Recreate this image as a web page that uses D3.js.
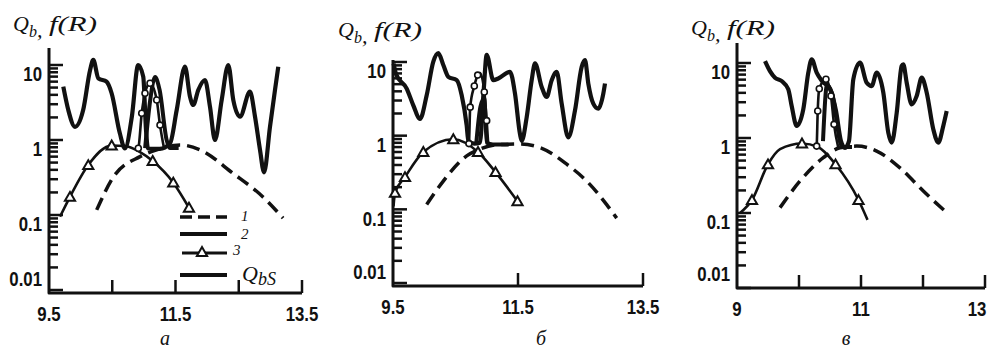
<!DOCTYPE html>
<html>
<head>
<meta charset="utf-8">
<script src="https://cdn.jsdelivr.net/npm/d3@7"></script>
</head>
<body style="margin:0">
<svg id="chart" width="991" height="350"></svg>
<script>
// ---- data: [R, value] pairs ----
const yMajor = [0.01, 0.1, 1, 10];
const yMinorFactors = [2, 3, 4, 5, 6, 7, 8, 9];

// panel а
const aTicks = [10.5, 11.5, 12.5, 13.5];
const aLabels = [9.5, 11.5, 13.5];
const aSolid = [[9.726,5.14],[9.805,2.51],[9.911,1.5],[10.04,2.51],[10.15,8.58],[10.2,11.7],[10.28,6.65],[10.41,5.99],[10.49,4.2],[10.62,1.23],[10.7,0.77],[10.81,2.05],[10.91,10],[10.99,7.0],[11.034,1.36],[11.065,0.77],[11.25,0.76],[11.413,0.9],[11.519,2.51],[11.65,9.5],[11.729,3.78],[11.781,2.93],[11.86,4.64],[11.966,6.31],[12.045,2.78],[12.124,1.0],[12.23,3.41],[12.335,10],[12.414,3.41],[12.52,2.05],[12.678,4.41],[12.757,2.05],[12.836,0.74],[12.9,0.37],[12.994,1.5],[13.073,4.64],[13.125,9.5]];
const aQbs = [[11.02,0.78],[11.1,3.4],[11.176,6.9],[11.25,4.6],[11.36,1.0],[11.41,0.78],[11.55,0.78]];
const aCirc = [[10.891,0.74],[10.912,0.775],[10.966,2.27],[11.018,4.2],[11.097,5.7],[11.203,3.41],[11.255,1.58],[11.318,0.78]];
const aCircMarks = [[10.912,0.775],[10.966,2.27],[11.018,4.2],[11.097,5.7],[11.203,3.41],[11.255,1.58]];
const aTri = [[9.674,0.095],[9.832,0.175],[10.121,0.464],[10.491,0.845],[10.7,0.83],[10.94,0.69],[11.14,0.525],[11.465,0.27],[11.713,0.125]];
const aTriMarks = [[9.832,0.175],[10.121,0.464],[10.491,0.845],[11.14,0.525],[11.465,0.27],[11.713,0.125]];
const aDash = [[10.254,0.117],[10.517,0.32],[10.939,0.6],[11.203,0.74],[11.571,0.86],[11.887,0.74],[12.409,0.36],[12.883,0.174],[13.2,0.091]];

// panel б
const bTicks = [11.5, 13.5];
const bLabels = [9.5, 11.5, 13.5];
const bSolid = [[9.51,9.5],[9.55,6.8],[9.719,4.36],[9.825,2.58],[9.932,1.69],[10.039,3.53],[10.145,10.1],[10.225,13.2],[10.305,9.1],[10.385,6.29],[10.519,5.67],[10.599,3.53],[10.679,1.37],[10.705,0.85],[10.8,0.78],[10.89,0.8],[10.95,4.0],[10.999,12.5],[11.105,5.67],[11.185,5.98],[11.372,7.36],[11.452,3.72],[11.532,1.05],[11.559,0.85],[11.639,1.78],[11.719,5.67],[11.772,9.6],[11.879,4.59],[11.959,3.35],[12.039,5.67],[12.119,7.36],[12.199,2.72],[12.305,0.95],[12.412,2.2],[12.519,8.6],[12.572,10.6],[12.625,5.1],[12.705,2.72],[12.785,2.32],[12.865,3.72],[12.892,5.1]];
const bQbs = [[10.83,0.75],[10.9,2.5],[10.96,3.2],[11.0,0.8],[11.1,0.76],[11.35,0.76]];
const bCirc = [[10.705,0.74],[10.715,0.78],[10.735,2.44],[10.801,4.73],[10.855,6.64],[10.892,7.07],[10.961,3.92],[10.999,1.6],[11.025,0.73]];
const bCircMarks = [[10.715,0.78],[10.735,2.44],[10.801,4.73],[10.855,6.64],[10.961,3.92],[10.999,1.6]];
const bTri = [[9.508,0.11],[9.532,0.167],[9.692,0.274],[9.985,0.6],[10.465,0.895],[10.86,0.6],[11.14,0.32],[11.492,0.129]];
const bTriMarks = [[9.532,0.167],[9.692,0.274],[9.985,0.6],[10.465,0.895],[10.86,0.6],[11.14,0.32],[11.492,0.129]];
const bDash = [[10.039,0.116],[10.305,0.242],[10.679,0.532],[10.892,0.658],[11.159,0.753],[11.532,0.77],[11.852,0.69],[12.279,0.41],[12.599,0.242],[12.919,0.116],[13.079,0.076]];

// panel в
const cTicks = [10, 11, 12, 13];
const cLabels = [9, 11, 13];
const cSolid = [[9.452,10.6],[9.532,7.8],[9.613,6.37],[9.721,5.75],[9.827,4.46],[9.882,2.67],[9.963,1.45],[10.069,2.41],[10.15,7.43],[10.205,11.2],[10.285,7.43],[10.371,5.75],[10.5,4.5],[10.597,2.29],[10.677,0.91],[10.742,0.74],[10.806,0.91],[10.876,6.06],[10.984,10.1],[11.092,5.46],[11.173,4.93],[11.253,7.43],[11.36,4.02],[11.44,1.18],[11.495,0.87],[11.576,2.17],[11.656,9.12],[11.682,9.6],[11.737,5.46],[11.818,2.81],[11.898,3.63],[11.979,6.37],[12.06,4.02],[12.166,1.31],[12.247,0.87],[12.327,1.45],[12.382,2.29]];
const cQbs = [[10.387,0.91],[10.452,5.09],[10.532,3.98],[10.694,0.76],[10.855,0.76]];
const cCirc = [[10.28,0.74],[10.285,0.78],[10.302,2.29],[10.327,4.54],[10.435,6.06],[10.516,3.63],[10.565,1.52],[10.634,0.74]];
const cCircMarks = [[10.285,0.78],[10.302,2.29],[10.327,4.54],[10.435,6.06],[10.516,3.63],[10.565,1.52]];
const cTri = [[9.048,0.1],[9.242,0.149],[9.5,0.446],[9.694,0.71],[10.048,0.845],[10.306,0.76],[10.589,0.446],[10.96,0.149],[11.105,0.081]];
const cTriMarks = [[9.242,0.149],[9.5,0.446],[10.048,0.845],[10.589,0.446],[10.96,0.149]];
const cDash = [[9.694,0.118],[10.016,0.267],[10.392,0.546],[10.661,0.74],[10.931,0.78],[11.253,0.67],[11.629,0.4],[12.005,0.196],[12.355,0.106]];

const ink = '#111';
const W = 991;
const numFont = "bold 21px 'Liberation Sans', Arial, sans-serif";
const serif = "'Liberation Serif', 'DejaVu Serif', serif";
const svg = d3.select('#chart');

const panels = [
  { xDomain: [9.5, 13.5], ticks: aTicks, labels: aLabels, caption: 'а',
    solid: aSolid, qbs: aQbs, circ: aCirc, circMarks: aCircMarks, tri: aTri, triMarks: aTriMarks, dash: aDash,
    box: { left: 49, right: 302, top: 48, bottom: 293, y10: 65, y001: 290, titleX: 13, titleY: 31, capX: 165, capY: 345 }, legend: true },
  { xDomain: [9.5, 13.5], ticks: bTicks, labels: bLabels, caption: 'б',
    solid: bSolid, qbs: bQbs, circ: bCirc, circMarks: bCircMarks, tri: bTri, triMarks: bTriMarks, dash: bDash,
    box: { left: 393, right: 643, top: 60, bottom: 286, y10: 62, y001: 283, titleX: 338, titleY: 37, capX: 541, capY: 345 } },
  { xDomain: [9, 13], ticks: cTicks, labels: cLabels, caption: 'в',
    solid: cSolid, qbs: cQbs, circ: cCirc, circMarks: cCircMarks, tri: cTri, triMarks: cTriMarks, dash: cDash,
    box: { left: 737, right: 985, top: 43, bottom: 288, y10: 63, y001: 288, titleX: 691, titleY: 35, capX: 846, capY: 345 } }
];

const yAllTicks = yMajor.concat(yMajor.slice(0, 3).flatMap(d => yMinorFactors.map(k => +(k * d).toPrecision(3))));

function numLabel(g, x, y, text, anchor) {
  g.append('g').attr('transform', `translate(${x},${y}) scale(0.8,1)`)
    .append('text').style('font', numFont).attr('fill', ink)
    .attr('text-anchor', anchor).attr('dominant-baseline', 'central')
    .text(text);
}

function ital(g, x, y, size, text) {
  return g.append('text').attr('x', x).attr('y', y)
    .style('font-family', serif).style('font-style', 'italic').style('font-size', size + 'px')
    .attr('fill', ink).text(text);
}

panels.forEach(p => {
  const B = p.box;
  const x = d3.scaleLinear().domain(p.xDomain).range([B.left, B.right]);
  const y = d3.scaleLog().domain([0.01, 10]).range([B.y001, B.y10]);
  const g = svg.append('g');

  // same drawing path as the data curves: datum + line generator in data units
  const line = d3.line().x(d => x(d[0])).y(d => y(d[1])).curve(d3.curveMonotoneX);
  const straight = d3.line().x(d => x(d[0])).y(d => y(d[1]));
  const curve = (data, w, dash, gen) => g.append('path').datum(data).attr('d', gen || line)
    .attr('fill', 'none').attr('stroke', ink).attr('stroke-width', w)
    .attr('stroke-linejoin', 'round').attr('stroke-dasharray', dash || null);

  // frame and inward ticks
  const r0 = p.xDomain[0], r1 = p.xDomain[1];
  const vTop = y.invert(B.top), vBot = y.invert(B.bottom);
  curve([[r0, vTop], [r0, vBot], [r1, vBot]], 3, null, straight);
  yAllTicks.forEach(v => curve([[r0, v], [x.invert(B.left + (yMajor.includes(v) ? 14 : 9)), v]], 2.5, null, straight));
  p.ticks.forEach(t => curve([[t, vBot], [t, y.invert(B.bottom - 13)]], 2.5, null, straight));

  yMajor.forEach(v => {
    const cy = v === 0.01 ? B.bottom - 14 : y(v) + 9;
    numLabel(g, B.left - 7, cy, String(v), 'end');
  });
  p.labels.forEach(v => numLabel(g, Math.min(x(v), W - 14), B.bottom + 21, String(v), 'middle'));

  const t = ital(g, B.titleX, B.titleY, 22, 'Q');
  t.append('tspan').attr('dy', 6).style('font-size', '16px').text('b');
  t.append('tspan').text(',');
  ital(g, B.titleX + 36, B.titleY, 21, 'f(R)').attr('textLength', 48).attr('lengthAdjust', 'spacingAndGlyphs');
  ital(g, B.capX, B.capY, 20, p.caption).attr('text-anchor', 'middle');

  curve(p.dash, 3.5, '13 7');
  curve(p.tri, 2.6);
  curve(p.solid, 4.2);
  curve(p.qbs, 4);
  curve(p.circ, 2.6);

  g.selectAll('circle.cm').data(p.circMarks).join('circle').attr('class', 'cm')
    .attr('cx', d => x(d[0])).attr('cy', d => y(d[1])).attr('r', 3)
    .attr('fill', '#fff').attr('stroke', ink).attr('stroke-width', 1.6);
  g.selectAll('path.tm').data(p.triMarks).join('path').attr('class', 'tm')
    .attr('transform', d => `translate(${x(d[0])},${y(d[1]) + 1})`)
    .attr('d', d3.symbol(d3.symbolTriangle, 45))
    .attr('fill', '#fff').attr('stroke', ink).attr('stroke-width', 2);

  if (p.legend) {
    const lg = g.append('g');
    const lx0 = 180, lx1 = 227;
    lg.append('line').attr('x1', lx0).attr('x2', lx1).attr('y1', 217).attr('y2', 217)
      .attr('stroke', ink).attr('stroke-width', 3.5).attr('stroke-dasharray', '12 6');
    lg.append('line').attr('x1', lx0).attr('x2', lx1).attr('y1', 234).attr('y2', 234)
      .attr('stroke', ink).attr('stroke-width', 4);
    lg.append('line').attr('x1', lx0 + 2).attr('x2', lx1).attr('y1', 253).attr('y2', 253)
      .attr('stroke', ink).attr('stroke-width', 3);
    lg.append('path').attr('transform', 'translate(202,253)')
      .attr('d', d3.symbol(d3.symbolTriangle, 45))
      .attr('fill', '#fff').attr('stroke', ink).attr('stroke-width', 2);
    lg.append('line').attr('x1', lx0).attr('x2', lx1).attr('y1', 275).attr('y2', 275)
      .attr('stroke', ink).attr('stroke-width', 4);
    ital(lg, 241, 221, 15, '1');
    ital(lg, 241, 239, 15, '2');
    ital(lg, 233, 255, 15, '3');
    const q = ital(lg, 242, 281, 22, 'Q');
    q.append('tspan').attr('dy', 4).style('font-size', '18px').text('bS');
  }
});
</script>
</body>
</html>
